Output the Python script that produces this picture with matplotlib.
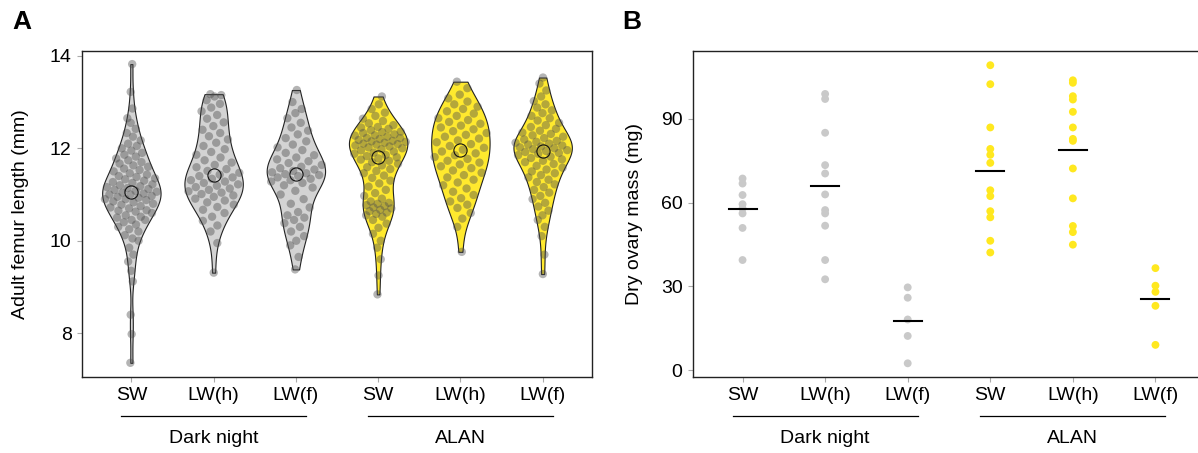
import numpy as np
import matplotlib
matplotlib.use("Agg")
import matplotlib.pyplot as plt
import matplotlib.transforms as mtransforms

plt.rcParams['font.family'] = ['Liberation Sans', 'DejaVu Sans']

# ---------------- data ----------------
tick_labels = ["SW", "LW(h)", "LW(f)", "SW", "LW(h)", "LW(f)"]
group_labels = ["Dark night", "ALAN"]

femur_dark_sw = [7.36, 7.98, 8.40, 9.12, 9.35, 9.55, 9.70, 9.85,
                 10.0, 10.05, 10.12, 10.2, 10.25, 10.3, 10.35, 10.4, 10.45, 10.45, 10.5, 10.52,
                 10.55, 10.6, 10.63, 10.65, 10.66, 10.7, 10.72, 10.75, 10.78, 10.8, 10.83, 10.85,
                 10.88, 10.9, 10.9, 10.93, 10.95, 10.97, 11.0, 11.0, 11.02, 11.04, 11.06, 11.08,
                 11.1, 11.12, 11.14, 11.16, 11.18, 11.2, 11.22, 11.25, 11.27, 11.3, 11.33, 11.35,
                 11.38, 11.4, 11.43, 11.46, 11.5, 11.53, 11.56, 11.6, 11.63, 11.67, 11.7, 11.74,
                 11.78, 11.82, 11.86, 11.9, 11.95, 12.0, 12.05, 12.1, 12.17, 12.25, 12.33, 12.42,
                 12.55, 12.65, 12.86, 13.22, 13.82]
femur_dark_lwh = [13.17, 13.15, 13.12, 13.04, 12.96, 12.88, 12.80, 12.72, 12.64, 12.56, 12.48,
                  12.40, 12.33, 12.26, 12.19, 12.12, 12.05, 11.98, 11.92, 11.86, 11.80, 11.74,
                  11.69, 11.64, 11.59, 11.55, 11.51, 11.47, 11.43, 11.40, 11.37, 11.34, 11.31,
                  11.28, 11.25, 11.22, 11.19, 11.16, 11.13, 11.10, 11.07, 11.04, 11.01, 10.98,
                  10.95, 10.91, 10.87, 10.83, 10.78, 10.73, 10.67, 10.60, 10.52, 10.43, 10.33,
                  10.2, 9.95, 9.31]
femur_dark_lwf = [13.26, 13.0, 12.85, 12.76,
                  12.65, 12.55, 12.45, 12.38, 12.3, 12.22, 12.15, 12.08, 12.02, 11.96, 11.9, 11.85,
                  11.8, 11.76, 11.72, 11.68, 11.64, 11.6, 11.57, 11.54, 11.51, 11.48, 11.46, 11.44,
                  11.42, 11.4, 11.37, 11.34, 11.31, 11.28, 11.25, 11.2, 11.15,
                  11.08, 11.0, 10.9, 10.8, 10.72, 10.62, 10.55, 10.5, 10.45, 10.38, 10.3, 10.2,
                  10.1, 10.0, 9.9, 9.65, 9.38]
femur_alan_sw = [13.12, 12.95, 12.85, 12.77, 12.70, 12.64, 12.59, 12.54, 12.50, 12.46, 12.45,
                 12.42, 12.39, 12.36, 12.35, 12.33, 12.30, 12.28, 12.275, 12.25, 12.225, 12.22,
                 12.20, 12.18, 12.16, 12.15, 12.14, 12.12, 12.10, 12.09, 12.08, 12.06, 12.04,
                 12.02, 12.00, 11.98, 11.955, 11.93, 11.905, 11.88, 11.855, 11.83, 11.805, 11.78,
                 11.755, 11.73, 11.70, 11.665, 11.63, 11.59, 11.55, 11.51, 11.46, 11.41, 11.36,
                 11.30, 11.24, 11.17, 11.10, 11.03, 10.97, 10.91, 10.85, 10.82, 10.80, 10.77,
                 10.75, 10.72, 10.70, 10.67, 10.64, 10.61, 10.58, 10.55, 10.52, 10.45, 10.37,
                 10.28, 10.15, 10.0, 9.85, 9.6, 9.25, 8.84]
femur_alan_lwh = [13.44, 13.3, 13.16, 13.08, 13.01, 12.95, 12.90, 12.85, 12.80, 12.75, 12.70,
                  12.65, 12.61, 12.57, 12.53, 12.49, 12.45, 12.41, 12.37, 12.33, 12.29, 12.25,
                  12.21, 12.17, 12.13, 12.09, 12.05, 12.01, 11.97, 11.93, 11.89, 11.85, 11.81,
                  11.77, 11.73, 11.69, 11.65, 11.61, 11.57, 11.52, 11.47, 11.42, 11.37, 11.32,
                  11.26, 11.20, 11.13, 11.06, 10.99, 10.92, 10.85, 10.78, 10.71, 10.6, 10.48,
                  10.3, 9.76]
femur_alan_lwf = [13.53, 13.4, 13.25, 13.12, 13.02,
                  12.95, 12.88, 12.82, 12.76, 12.7, 12.65, 12.6, 12.55, 12.5, 12.46, 12.42, 12.38,
                  12.34, 12.31,
                  12.28, 12.25, 12.22, 12.19, 12.16, 12.14, 12.12, 12.1, 12.08, 12.06, 12.04, 12.02,
                  12.0, 11.98, 11.96, 11.94, 11.92, 11.9,
                  11.88, 11.85, 11.82, 11.79, 11.76, 11.73, 11.7, 11.66, 11.62, 11.58, 11.54, 11.5,
                  11.46, 11.42, 11.37, 11.32, 11.27, 11.22, 11.16, 11.1, 11.04, 10.97, 10.9, 10.82,
                  10.74, 10.65, 10.55, 10.45,
                  10.3, 10.1, 9.7, 9.28]

ovary_dark_sw = [68.6, 66.8, 62.7, 59.4, 57.9, 56.1, 50.9, 39.4]
ovary_dark_lwh = [98.9, 97.1, 85.0, 73.4, 70.4, 62.9, 57.3, 56.1, 51.7, 39.4, 32.5]
ovary_dark_lwf = [29.6, 25.9, 18.1, 12.2, 2.4]
ovary_alan_sw = [109.2, 102.4, 86.9, 79.2, 77.1, 74.2, 64.4, 62.3, 56.9, 54.7, 46.3, 42.1]
ovary_alan_lwh = [103.8, 102.9, 98.1, 96.9, 92.5, 86.9, 82.8, 82.1, 72.2, 61.5, 51.6, 49.4, 44.9]
ovary_alan_lwf = [36.5, 30.2, 28.0, 23.0, 9.0]

femur = [femur_dark_sw, femur_dark_lwh, femur_dark_lwf,
         femur_alan_sw, femur_alan_lwh, femur_alan_lwf]
ovary = [ovary_dark_sw, ovary_dark_lwh, ovary_dark_lwf,
         ovary_alan_sw, ovary_alan_lwh, ovary_alan_lwf]

# ---------------- style ----------------
GRAY = "#d3d3d3"
YELLOW = "#ffe92e"
fills = [GRAY, GRAY, GRAY, YELLOW, YELLOW, YELLOW]
dot_colors_b = ["#c9c9c9"] * 3 + ["#ffe81f"] * 3
positions = np.arange(1, 7)
VW = 0.71
FS = 14


def nrd0(x):
    x = np.asarray(x, float)
    sd = np.std(x, ddof=1)
    iqr = np.subtract(*np.percentile(x, [75, 25]))
    lo = min(sd, iqr / 1.34) if iqr > 0 else sd
    return 0.9 * lo * len(x) ** (-0.2)


def kde_eval(x, pts, bw):
    x = np.asarray(x, float)
    z = (np.asarray(pts)[:, None] - x[None, :]) / bw
    return np.exp(-0.5 * z ** 2).sum(axis=1)


fig = plt.figure(figsize=(11.98, 4.53), dpi=100)
H = 453.0
W = 1198.0
axA = fig.add_axes([82 / W, (H - 376.7) / H, 510 / W, 326 / H])
axB = fig.add_axes([693 / W, (H - 376.7) / H, 512 / W, 326 / H])

# ---------------- Panel A ----------------
for i, d in enumerate(femur):
    bw = nrd0(d)
    vp = axA.violinplot([d], positions=[positions[i]], widths=VW, showextrema=False,
                        bw_method=bw / np.std(d, ddof=1), points=300)
    for b in vp['bodies']:
        b.set_facecolor(fills[i])
        b.set_edgecolor("#222222")
        b.set_linewidth(0.8)
        b.set_alpha(1)
        b.set_zorder(1)
    # sina-style jitter proportional to density
    grid = np.linspace(min(d), max(d), 300)
    dmax = kde_eval(d, grid, bw).max()
    dens = kde_eval(d, d, bw) / dmax
    n = len(d)
    u = ((np.arange(n) * 0.6180339887 + 0.31 * i) % 1.0) * 2 - 1
    xs = positions[i] + u * dens * VW / 2 * 0.95
    axA.scatter(xs, d, s=36, color="#4d4d4d", alpha=0.42, edgecolors="none", zorder=2)
    axA.plot(positions[i], np.median(d), marker="o", markersize=9.5, markerfacecolor="none",
             markeredgecolor="#111111", markeredgewidth=0.8, zorder=3)

axA.set_xlim(0.4, 6.6)
axA.set_ylim(7.06, 14.11)
axA.set_yticks([8, 10, 12, 14])
axA.set_ylabel("Adult femur length (mm)", fontsize=FS)
axA.yaxis.set_label_coords(-0.103, 0.5)

# ---------------- Panel B ----------------
for i, d in enumerate(ovary):
    axB.scatter(np.full(len(d), positions[i]), d, s=32, color=dot_colors_b[i],
                edgecolors="none", zorder=2)
    m = np.mean(d)
    axB.plot([positions[i] - 0.17, positions[i] + 0.17], [m, m], color="black", lw=1.5, zorder=3)

axB.set_xlim(0.4, 6.6)
axB.set_ylim(-2.4, 114.4)
axB.set_yticks([0, 30, 60, 90])
axB.set_ylabel("Dry ovary mass (mg)", fontsize=FS)
axB.yaxis.set_label_coords(-0.097, 0.5)

for ax in (axA, axB):
    ax.set_xticks(positions)
    ax.set_xticklabels(tick_labels, fontsize=FS)
    ax.tick_params(axis='both', labelsize=FS, length=3.5, width=0.8, color="#aaaaaa", pad=4)
    for sp in ax.spines.values():
        sp.set_linewidth(1.0)
        sp.set_color("#222222")
    trans = mtransforms.blended_transform_factory(ax.transData, ax.transAxes)
    for g, c in enumerate([2, 5]):
        ax.plot([c - 1.12, c + 1.12], [-0.121, -0.121], transform=trans, color="black",
                lw=0.9, clip_on=False)
        ax.text(c, -0.19, group_labels[g], transform=trans, ha="center", va="center",
                fontsize=FS)

fig.text(12 / W, (H - 22) / H, "A", fontsize=19, fontweight="bold", ha="left", va="center")
fig.text(622 / W, (H - 22) / H, "B", fontsize=19, fontweight="bold", ha="left", va="center")

fig.savefig("out.png", dpi=100)
